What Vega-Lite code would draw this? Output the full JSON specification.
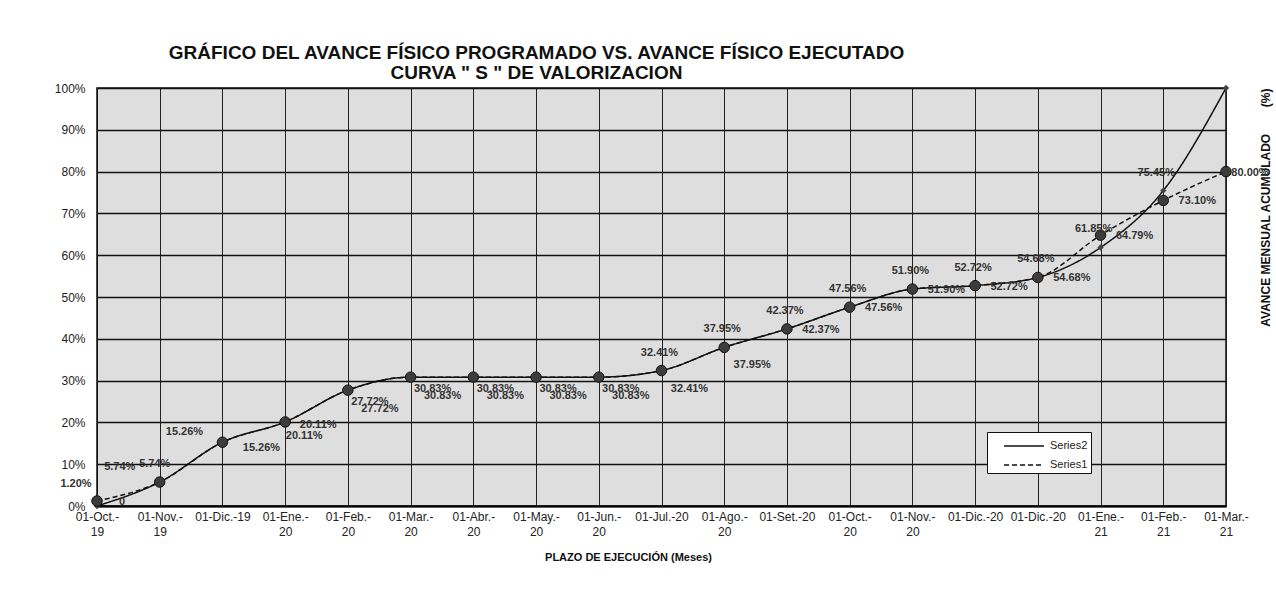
{
  "$schema": "https://vega.github.io/schema/vega-lite/v6.json",
  "width": 1129,
  "height": 418,
  "autosize": "none",
  "padding": {"left": 97, "top": 88, "right": 50, "bottom": 83},
  "background": "white",
  "config": {
    "view": {"fill": "#dedede", "stroke": "#111", "strokeWidth": 1.5},
    "font": "Liberation Sans"
  },
  "title": {
    "text": ["GRÁFICO DEL AVANCE FÍSICO PROGRAMADO VS. AVANCE FÍSICO EJECUTADO", "CURVA \" S \" DE VALORIZACION"],
    "anchor": "middle",
    "dx": -125,
    "fontSize": 19,
    "fontWeight": "bold",
    "font": "Liberation Sans",
    "color": "#111",
    "offset": -1,
    "lineHeight": 20
  },
  "data": {
    "values": [
      {"i": 0, "serie": "Series1", "valor": 1.2, "etiqueta": "1.20%"},
      {"i": 1, "serie": "Series1", "valor": 5.74, "etiqueta": "5.74%"},
      {"i": 2, "serie": "Series1", "valor": 15.26, "etiqueta": "15.26%"},
      {"i": 3, "serie": "Series1", "valor": 20.11, "etiqueta": "20.11%"},
      {"i": 4, "serie": "Series1", "valor": 27.72, "etiqueta": "27.72%"},
      {"i": 5, "serie": "Series1", "valor": 30.83, "etiqueta": "30.83%"},
      {"i": 6, "serie": "Series1", "valor": 30.83, "etiqueta": "30.83%"},
      {"i": 7, "serie": "Series1", "valor": 30.83, "etiqueta": "30.83%"},
      {"i": 8, "serie": "Series1", "valor": 30.83, "etiqueta": "30.83%"},
      {"i": 9, "serie": "Series1", "valor": 32.41, "etiqueta": "32.41%"},
      {"i": 10, "serie": "Series1", "valor": 37.95, "etiqueta": "37.95%"},
      {"i": 11, "serie": "Series1", "valor": 42.37, "etiqueta": "42.37%"},
      {"i": 12, "serie": "Series1", "valor": 47.56, "etiqueta": "47.56%"},
      {"i": 13, "serie": "Series1", "valor": 51.9, "etiqueta": "51.90%"},
      {"i": 14, "serie": "Series1", "valor": 52.72, "etiqueta": "52.72%"},
      {"i": 15, "serie": "Series1", "valor": 54.68, "etiqueta": "54.68%"},
      {"i": 16, "serie": "Series1", "valor": 64.79, "etiqueta": "64.79%"},
      {"i": 17, "serie": "Series1", "valor": 73.1, "etiqueta": "73.10%"},
      {"i": 18, "serie": "Series1", "valor": 80.0, "etiqueta": "80.00%"},
      {"i": 0, "serie": "Series2", "valor": 0, "etiqueta": "0"},
      {"i": 1, "serie": "Series2", "valor": 5.74, "etiqueta": "5.74%"},
      {"i": 2, "serie": "Series2", "valor": 15.26, "etiqueta": "15.26%"},
      {"i": 3, "serie": "Series2", "valor": 20.11, "etiqueta": "20.11%"},
      {"i": 4, "serie": "Series2", "valor": 27.72, "etiqueta": "27.72%"},
      {"i": 5, "serie": "Series2", "valor": 30.83, "etiqueta": "30.83%"},
      {"i": 6, "serie": "Series2", "valor": 30.83, "etiqueta": "30.83%"},
      {"i": 7, "serie": "Series2", "valor": 30.83, "etiqueta": "30.83%"},
      {"i": 8, "serie": "Series2", "valor": 30.83, "etiqueta": "30.83%"},
      {"i": 9, "serie": "Series2", "valor": 32.41, "etiqueta": "32.41%"},
      {"i": 10, "serie": "Series2", "valor": 37.95, "etiqueta": "37.95%"},
      {"i": 11, "serie": "Series2", "valor": 42.37, "etiqueta": "42.37%"},
      {"i": 12, "serie": "Series2", "valor": 47.56, "etiqueta": "47.56%"},
      {"i": 13, "serie": "Series2", "valor": 51.9, "etiqueta": "51.90%"},
      {"i": 14, "serie": "Series2", "valor": 52.72, "etiqueta": "52.72%"},
      {"i": 15, "serie": "Series2", "valor": 54.68, "etiqueta": "54.68%"},
      {"i": 16, "serie": "Series2", "valor": 61.85, "etiqueta": "61.85%"},
      {"i": 17, "serie": "Series2", "valor": 75.45, "etiqueta": "75.45%"},
      {"i": 18, "serie": "Series2", "valor": 100, "etiqueta": ""}
    ]
  },
  "resolve": {"axis": {"y": "independent"}},
  "layer": [
    {
      "mark": {"type": "line", "interpolate": "monotone", "color": "#111", "strokeWidth": 1.5},
      "encoding": {
        "x": {
          "field": "i", "type": "quantitative",
          "scale": {"domain": [0, 18], "nice": false, "zero": false},
          "axis": {
            "values": [0, 0.5, 1, 1.5, 2, 2.5, 3, 3.5, 4, 4.5, 5, 5.5, 6, 6.5, 7, 7.5, 8, 8.5, 9, 9.5, 10, 10.5, 11, 11.5, 12, 12.5, 13, 13.5, 14, 14.5, 15, 15.5, 16, 16.5, 17, 17.5, 18],
            "grid": true, "gridColor": "#222", "gridWidth": 1,
            "ticks": false, "domainColor": "#000", "domainWidth": 2,
            "labelExpr": "datum.value % 1 != 0 ? '' : split(split('01-Oct.-|19;01-Nov.-|19;01-Dic.-19;01-Ene.-|20;01-Feb.-|20;01-Mar.-|20;01-Abr.-|20;01-May.-|20;01-Jun.-|20;01-Jul.-20;01-Ago.-|20;01-Set.-20;01-Oct.-|20;01-Nov.-|20;01-Dic.-20;01-Dic.-20;01-Ene.-|21;01-Feb.-|21;01-Mar.-|21', ';')[datum.value], '|')",
            "labelOverlap": false, "labelFlush": false, "labelBound": false,
            "labelFontSize": 12, "labelColor": "#222", "labelPadding": 5, "labelLineHeight": 15, "labelBaseline": "top",
            "title": "PLAZO DE EJECUCIÓN  (Meses)",
            "titleFontSize": 11, "titleFontWeight": "bold", "titleColor": "#111",
            "titleX": 531, "titleY": 45
          }
        },
        "y": {
          "field": "valor", "type": "quantitative",
          "scale": {"domain": [0, 100], "nice": false},
          "axis": {
            "orient": "left",
            "values": [0, 10, 20, 30, 40, 50, 60, 70, 80, 90, 100],
            "labelExpr": "datum.value + '%'",
            "grid": true, "gridColor": "#111", "gridWidth": 1.5,
            "ticks": false, "domainColor": "#111",
            "labelFontSize": 12, "labelColor": "#222", "labelPadding": 12,
            "title": null
          }
        },
        "strokeDash": {
          "field": "serie", "type": "nominal",
          "scale": {"domain": ["Series2", "Series1"], "range": [[1, 0], [5, 3]]},
          "legend": {
            "orient": "none", "legendX": 890, "legendY": 344,
            "fillColor": "white", "strokeColor": "#111", "padding": 3,
            "symbolType": "M-1,0H3", "symbolSize": 400, "symbolStrokeWidth": 1.5,
            "symbolStrokeColor": "#111", "symbolOffset": 13, "labelOffset": 25,
            "labelFontSize": 11, "labelColor": "#222", "title": null, "rowPadding": 3
          }
        }
      }
    },
    {
      "transform": [{"filter": "datum.serie == 'Series2'"}],
      "mark": {"type": "point", "shape": "diamond", "filled": true, "size": 40, "color": "#444", "opacity": 1},
      "encoding": {
        "x": {"field": "i", "type": "quantitative"},
        "y": {"field": "valor", "type": "quantitative", "axis": null}
      }
    },
    {
      "transform": [{"filter": "datum.serie == 'Series1'"}],
      "mark": {"type": "point", "shape": "circle", "filled": true, "size": 110, "color": "#3c3c3c", "stroke": "#111", "strokeWidth": 1, "opacity": 1},
      "encoding": {
        "x": {"field": "i", "type": "quantitative"},
        "y": {
          "field": "valor", "type": "quantitative",
          "axis": {
            "orient": "right", "labels": false, "ticks": false, "grid": false, "domain": false,
            "title": "AVANCE MENSUAL ACUMULADO\u00a0\u00a0\u00a0\u00a0\u00a0\u00a0\u00a0\u00a0(%)",
            "titleAngle": 270, "titleAnchor": "end", "titleFontSize": 12, "titleFontWeight": "bold",
            "titleColor": "#111", "titlePadding": 46
          }
        }
      }
    },
    {
      "transform": [{"filter": "datum.serie == 'Series2' && datum.i >= 9 && datum.i <= 15"}],
      "mark": {"type": "text", "dx": -2, "dy": -18, "fontSize": 11, "fontWeight": "bold", "color": "#333"},
      "encoding": {"x": {"field": "i", "type": "quantitative"}, "y": {"field": "valor", "type": "quantitative", "axis": null}, "text": {"field": "etiqueta"}}
    },
    {
      "transform": [{"filter": "datum.serie == 'Series2' && (datum.i == 16 || datum.i == 17)"}],
      "mark": {"type": "text", "dx": -7, "dy": -18, "fontSize": 11, "fontWeight": "bold", "color": "#333"},
      "encoding": {"x": {"field": "i", "type": "quantitative"}, "y": {"field": "valor", "type": "quantitative", "axis": null}, "text": {"field": "etiqueta"}}
    },
    {
      "transform": [{"filter": "datum.serie == 'Series1' && datum.i >= 11 && datum.i <= 17"}],
      "mark": {"type": "text", "dx": 34, "dy": 1, "fontSize": 11, "fontWeight": "bold", "color": "#333"},
      "encoding": {"x": {"field": "i", "type": "quantitative"}, "y": {"field": "valor", "type": "quantitative", "axis": null}, "text": {"field": "etiqueta"}}
    },
    {
      "transform": [{"filter": "datum.serie == 'Series1' && datum.i == 18"}],
      "mark": {"type": "text", "dx": 24, "dy": 1, "fontSize": 11, "fontWeight": "bold", "color": "#333"},
      "encoding": {"x": {"field": "i", "type": "quantitative"}, "y": {"field": "valor", "type": "quantitative", "axis": null}, "text": {"field": "etiqueta"}}
    },
    {
      "transform": [{"filter": "datum.serie == 'Series1' && (datum.i == 9 || datum.i == 10)"}],
      "mark": {"type": "text", "dx": 28, "dy": 18, "fontSize": 11, "fontWeight": "bold", "color": "#333"},
      "encoding": {"x": {"field": "i", "type": "quantitative"}, "y": {"field": "valor", "type": "quantitative", "axis": null}, "text": {"field": "etiqueta"}}
    },
    {
      "transform": [{"filter": "datum.serie == 'Series2' && datum.i == 1"}],
      "mark": {"type": "text", "dx": -5, "dy": -18, "fontSize": 11, "fontWeight": "bold", "color": "#333"},
      "encoding": {"x": {"field": "i", "type": "quantitative"}, "y": {"field": "valor", "type": "quantitative", "axis": null}, "text": {"field": "etiqueta"}}
    },
    {
      "transform": [{"filter": "datum.serie == 'Series1' && datum.i == 1"}],
      "mark": {"type": "text", "dx": -40, "dy": -15, "fontSize": 11, "fontWeight": "bold", "color": "#333"},
      "encoding": {"x": {"field": "i", "type": "quantitative"}, "y": {"field": "valor", "type": "quantitative", "axis": null}, "text": {"field": "etiqueta"}}
    },
    {
      "transform": [{"filter": "datum.serie == 'Series1' && datum.i == 2"}],
      "mark": {"type": "text", "dx": -38, "dy": -10, "fontSize": 11, "fontWeight": "bold", "color": "#333"},
      "encoding": {"x": {"field": "i", "type": "quantitative"}, "y": {"field": "valor", "type": "quantitative", "axis": null}, "text": {"field": "etiqueta"}}
    },
    {
      "transform": [{"filter": "datum.serie == 'Series2' && datum.i == 2"}],
      "mark": {"type": "text", "dx": 39, "dy": 6, "fontSize": 11, "fontWeight": "bold", "color": "#333"},
      "encoding": {"x": {"field": "i", "type": "quantitative"}, "y": {"field": "valor", "type": "quantitative", "axis": null}, "text": {"field": "etiqueta"}}
    },
    {
      "transform": [{"filter": "datum.serie == 'Series1' && datum.i == 3"}],
      "mark": {"type": "text", "dx": 33, "dy": 3, "fontSize": 11, "fontWeight": "bold", "color": "#333"},
      "encoding": {"x": {"field": "i", "type": "quantitative"}, "y": {"field": "valor", "type": "quantitative", "axis": null}, "text": {"field": "etiqueta"}}
    },
    {
      "transform": [{"filter": "datum.serie == 'Series2' && datum.i == 3"}],
      "mark": {"type": "text", "dx": 19, "dy": 14, "fontSize": 11, "fontWeight": "bold", "color": "#333"},
      "encoding": {"x": {"field": "i", "type": "quantitative"}, "y": {"field": "valor", "type": "quantitative", "axis": null}, "text": {"field": "etiqueta"}}
    },
    {
      "transform": [{"filter": "datum.serie == 'Series1' && datum.i >= 4 && datum.i <= 8"}],
      "mark": {"type": "text", "dx": 22, "dy": 12, "fontSize": 11, "fontWeight": "bold", "color": "#333"},
      "encoding": {"x": {"field": "i", "type": "quantitative"}, "y": {"field": "valor", "type": "quantitative", "axis": null}, "text": {"field": "etiqueta"}}
    },
    {
      "transform": [{"filter": "datum.serie == 'Series2' && datum.i >= 4 && datum.i <= 8"}],
      "mark": {"type": "text", "dx": 32, "dy": 19, "fontSize": 11, "fontWeight": "bold", "color": "#333"},
      "encoding": {"x": {"field": "i", "type": "quantitative"}, "y": {"field": "valor", "type": "quantitative", "axis": null}, "text": {"field": "etiqueta"}}
    },
    {
      "transform": [{"filter": "datum.serie == 'Series1' && datum.i == 0"}],
      "mark": {"type": "text", "dx": -21, "dy": -17, "fontSize": 11, "fontWeight": "bold", "color": "#333"},
      "encoding": {"x": {"field": "i", "type": "quantitative"}, "y": {"field": "valor", "type": "quantitative", "axis": null}, "text": {"field": "etiqueta"}}
    },
    {
      "transform": [{"filter": "datum.serie == 'Series2' && datum.i == 0"}],
      "mark": {"type": "text", "dx": 25, "dy": -4, "fontSize": 11, "fontWeight": "bold", "color": "#333"},
      "encoding": {"x": {"field": "i", "type": "quantitative"}, "y": {"field": "valor", "type": "quantitative", "axis": null}, "text": {"field": "etiqueta"}}
    }
  ]
}
